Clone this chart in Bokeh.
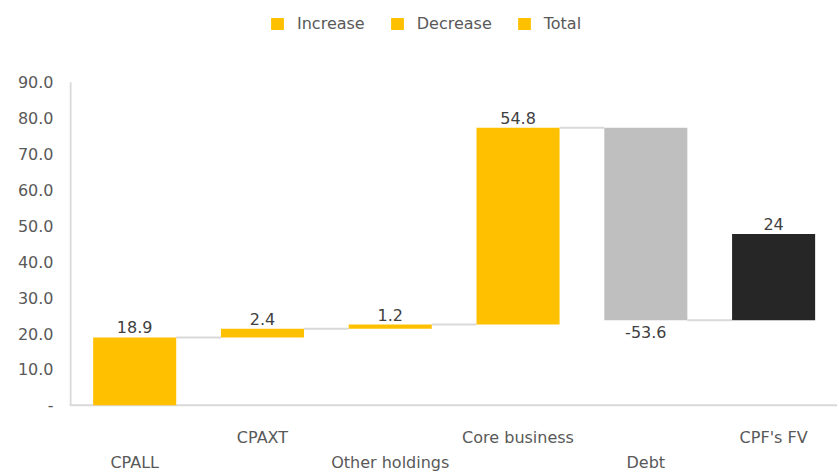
import numpy as np
from bokeh.plotting import figure
from bokeh.models import Range1d, FixedTicker, Legend, LegendItem, ColumnDataSource, LabelSet
from bokeh.core.properties import value
from bokeh.embed import file_html
from bokeh.resources import INLINE

# ---- data ----
categories = ["CPALL", "CPAXT", "Other holdings", "Core business", "Debt", "CPF's FV"]
values = [18.9, 2.4, 1.2, 54.8, -53.6, 24.0]
kinds = ["increase", "increase", "increase", "increase", "decrease", "total"]
value_labels = ["18.9", "2.4", "1.2", "54.8", "-53.6", "24"]
y_ticks = [0, 10, 20, 30, 40, 50, 60, 70, 80, 90]
y_tick_labels = ["-", "10.0", "20.0", "30.0", "40.0", "50.0", "60.0", "70.0", "80.0", "90.0"]
legend_labels = ["Increase", "Decrease", "Total"]

# ---- styles ----
FONT = "DejaVu Sans"
COLORS = {"increase": "#FFC000", "decrease": "#BFBFBF", "total": "#262626"}
GRID = "#D9D9D9"
BAR_W = 0.65
X0, X1 = -0.51, 5.5
Y0, Y1 = -18.44, 110.53

vals = np.array(values)
cum = np.cumsum(vals)
bottoms = cum - vals
tops_ = np.maximum(bottoms, cum)
bots_ = np.minimum(bottoms, cum)
xs = np.arange(len(categories))

p = figure(width=837, height=471, x_range=Range1d(X0, X1), y_range=Range1d(Y0, Y1),
           output_backend="svg", toolbar_location=None, x_axis_location=None,
           min_border_left=69, min_border_right=0, min_border_top=8, min_border_bottom=0)
p.outline_line_color = None
p.xgrid.visible = False
p.ygrid.visible = False
p.background_fill_color = "white"
p.border_fill_color = "white"

ax = p.yaxis[0]
ax.ticker = FixedTicker(ticks=y_ticks)
ax.major_label_overrides = {t: l for t, l in zip(y_ticks, y_tick_labels)}
ax.axis_line_color = None
ax.major_tick_line_color = None
ax.minor_tick_line_color = None
ax.major_tick_out = 0
ax.major_label_standoff = 16
ax.major_label_text_font = FONT
ax.major_label_text_font_size = "16px"
ax.major_label_text_color = "#595959"

# axis lines
p.segment(x0=[X0], y0=[0], x1=[X1], y1=[0], line_color=GRID, line_width=2)
p.segment(x0=[X0 + 0.008], y0=[0], x1=[X0 + 0.008], y1=[y_ticks[-1]], line_color=GRID, line_width=2)

# connectors
p.segment(x0=xs[:-1] + BAR_W / 2, y0=cum[:-1], x1=xs[1:] - BAR_W / 2, y1=cum[:-1],
          line_color=GRID, line_width=2)

renderers = {}
for k in ["increase", "decrease", "total"]:
    idx = [i for i, kk in enumerate(kinds) if kk == k]
    src = ColumnDataSource(dict(x=xs[idx], top=tops_[idx], bottom=bots_[idx]))
    renderers[k] = p.vbar(x="x", top="top", bottom="bottom", width=BAR_W, source=src,
                          fill_color=COLORS[k], line_color=None)

# value labels
pos = [i for i, v in enumerate(values) if v >= 0]
neg = [i for i, v in enumerate(values) if v < 0]
src_pos = ColumnDataSource(dict(x=xs[pos], y=tops_[pos], t=[value_labels[i] for i in pos]))
src_neg = ColumnDataSource(dict(x=xs[neg], y=bots_[neg], t=[value_labels[i] for i in neg]))
p.add_layout(LabelSet(x="x", y="y", text="t", source=src_pos, y_offset=4,
                      text_font=value(FONT), text_font_size=value("16px"), text_color="#404040",
                      text_align="center", text_baseline="bottom"))
p.add_layout(LabelSet(x="x", y="y", text="t", source=src_neg, y_offset=-6,
                      text_font=value(FONT), text_font_size=value("16px"), text_color="#404040",
                      text_align="center", text_baseline="top"))

# category labels (staggered)
upper = [i for i in range(len(categories)) if i % 2 == 1]
lower = [i for i in range(len(categories)) if i % 2 == 0]
p.text(x=xs[upper], y=[-8.9] * len(upper), text=[categories[i] for i in upper],
       text_font=value(FONT), text_font_size="16px", text_color="#595959",
       text_align="center", text_baseline="middle")
p.text(x=xs[lower], y=[-15.8] * len(lower), text=[categories[i] for i in lower],
       text_font=value(FONT), text_font_size="16px", text_color="#595959",
       text_align="center", text_baseline="middle")

legend = Legend(items=[LegendItem(label=l, renderers=[renderers["increase"]]) for l in legend_labels],
                orientation="horizontal", location=(200, 438),
                glyph_width=16, glyph_height=15, label_standoff=12, spacing=24,
                padding=0, margin=0, border_line_color=None, background_fill_alpha=0,
                label_text_font=FONT, label_text_font_size="16px", label_text_color="#595959")
p.add_layout(legend, "center")

open("out.html", "w").write(file_html(p, INLINE))
